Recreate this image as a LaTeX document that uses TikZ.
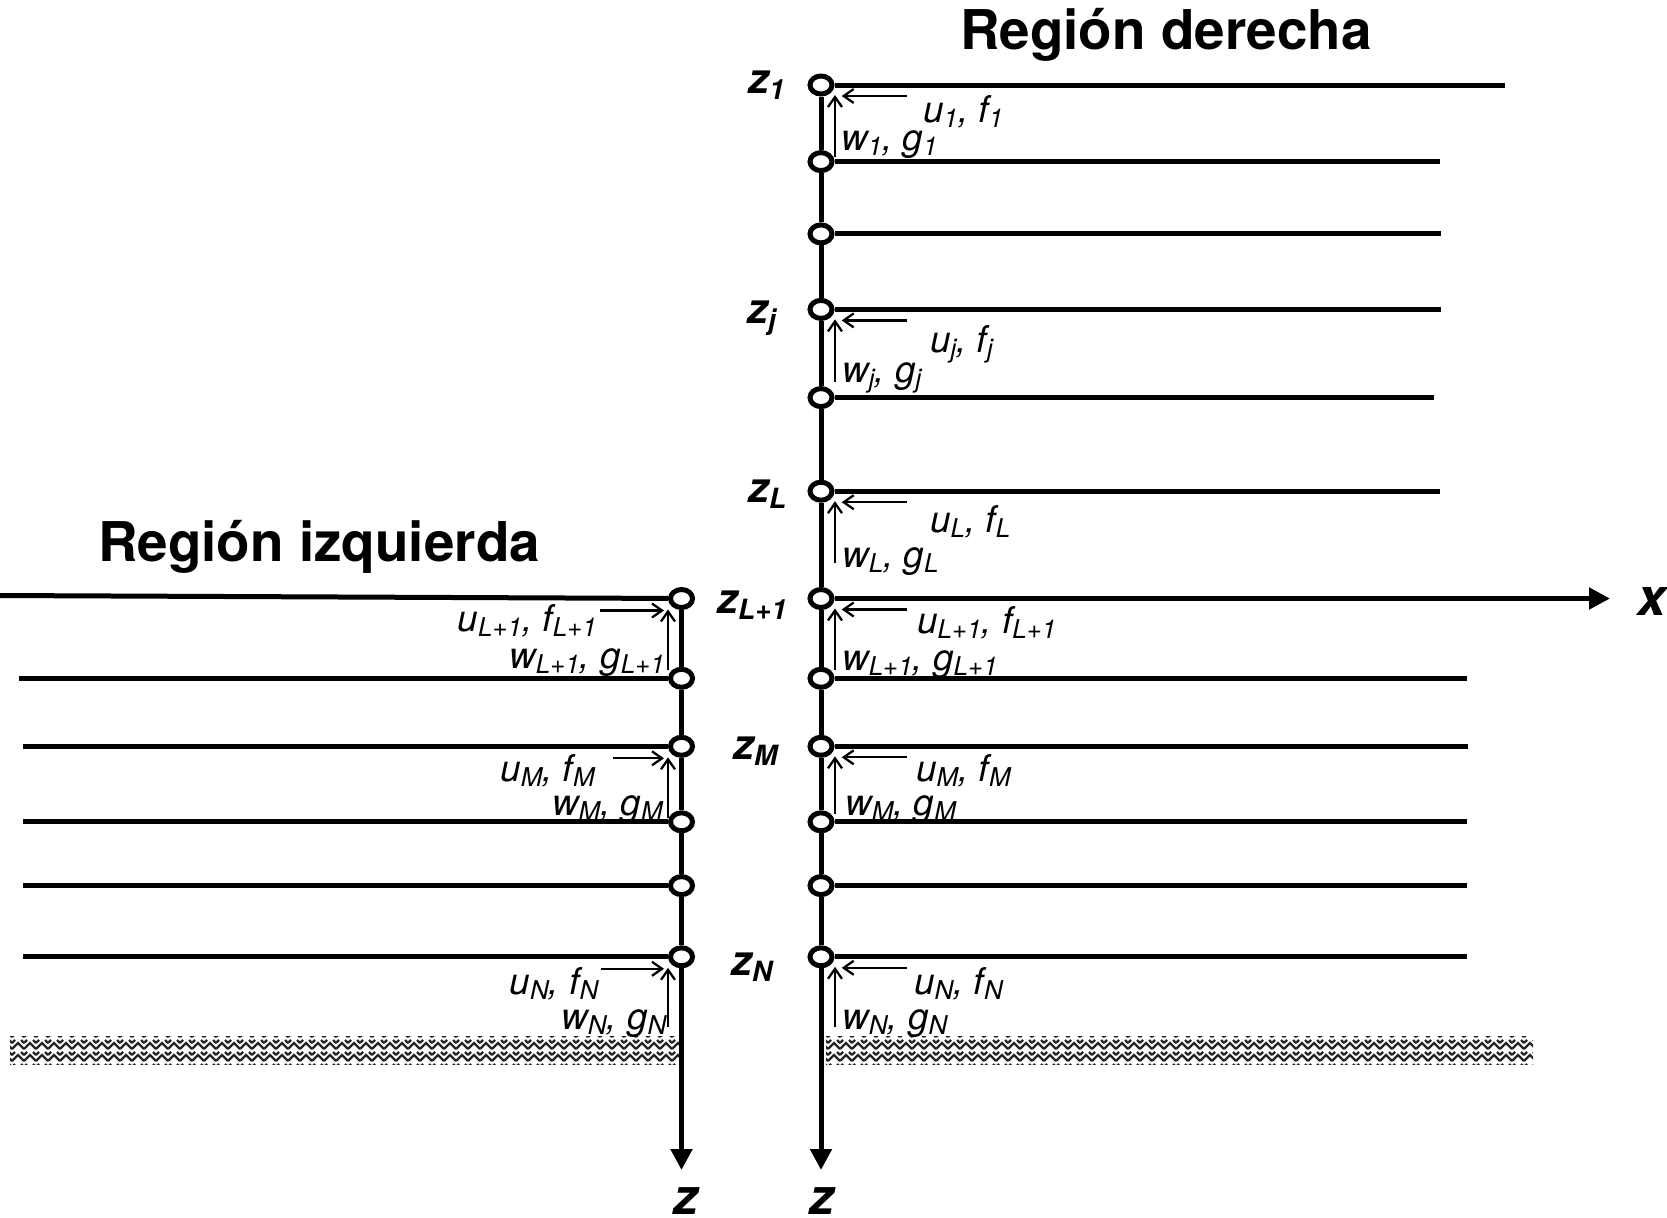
\documentclass[tikz,border=0pt]{standalone}
\usepackage{fontspec}
\setmainfont{TeX Gyre Heros}
\usetikzlibrary{arrows.meta,shapes.geometric,patterns}
\pgfdeclarepatternformonly{zigzag}{\pgfpoint{-1bp}{-1bp}}{\pgfpoint{13bp}{13bp}}{\pgfpoint{12bp}{12bp}}{%
  \pgfsetlinewidth{2.4bp}%
  \pgfpathmoveto{\pgfpoint{0bp}{0bp}}\pgfpathlineto{\pgfpoint{6bp}{6bp}}\pgfpathlineto{\pgfpoint{12bp}{0bp}}%
  \pgfpathmoveto{\pgfpoint{0bp}{6bp}}\pgfpathlineto{\pgfpoint{3bp}{9bp}}%
  \pgfpathmoveto{\pgfpoint{9bp}{9bp}}\pgfpathlineto{\pgfpoint{12bp}{6bp}}%
  \pgfusepath{stroke}}
\newcommand{\sbs}[1]{\raisebox{-5bp}{\fontsize{26}{26}\selectfont #1}}
\newcommand{\zsb}[1]{\raisebox{-6bp}{\fontsize{28}{28}\selectfont\bfseries\itshape #1}}
\begin{document}
\begin{tikzpicture}[x=1bp,y=-1bp,
  pt/.style={ellipse,draw,line width=5bp,fill=white,minimum width=22bp,minimum height=18bp,inner sep=0pt},
  lay/.style={line width=5bp},
  thinar/.style={line width=2.3bp,-{Straight Barb[length=10bp,width=14bp]}},
  axisar/.style={line width=5bp,-{Triangle[length=21bp,width=21bp]}},
  lbl/.style={font=\fontsize{37}{40}\selectfont\itshape,inner sep=0pt},
  zl/.style={font=\fontsize{42}{46}\selectfont\bfseries\itshape,inner sep=0pt},
  ttl/.style={font=\fontsize{55}{60}\selectfont\bfseries,inner sep=0pt}]
\useasboundingbox (0,0) rectangle (1667,1217);
\fill[white] (0,0) rectangle (1667,1217);

% ground bands
\fill[pattern=zigzag,pattern color=black!85] (10,1036) rectangle (680,1064);
\fill[pattern=zigzag,pattern color=black!85] (826,1036) rectangle (1533,1064);

% titles
\node[ttl,anchor=base west] (tr) at (960,49) {Región derecha};
\node[ttl,anchor=base west] (tl) at (98,561) {Región izquierda};

% right column nodes
\node[pt] (R1) at (821,85) {};
\node[pt] (R2) at (821,161.6) {};
\node[pt] (R3) at (821,233.9) {};
\node[pt] (R4) at (821,309.4) {};
\node[pt] (R5) at (821,397.6) {};
\node[pt] (R6) at (821,491.2) {};
\node[pt] (R7) at (821,598.5) {};
\node[pt] (R8) at (821,678.3) {};
\node[pt] (R9) at (821,746.3) {};
\node[pt] (R10) at (821,821.8) {};
\node[pt] (R11) at (821,885.6) {};
\node[pt] (R12) at (821,956.8) {};
% left column nodes
\node[pt] (L7) at (681.5,598.5) {};
\node[pt] (L8) at (681.5,678.3) {};
\node[pt] (L9) at (681.5,746.3) {};
\node[pt] (L10) at (681.5,821.8) {};
\node[pt] (L11) at (681.5,885.6) {};
\node[pt] (L12) at (681.5,956.8) {};

% line end coordinates
\coordinate (E1) at (1505,85);
\coordinate (E2) at (1440,161.6);
\coordinate (E3) at (1441,233.9);
\coordinate (E4) at (1441,309.4);
\coordinate (E5) at (1434,397.6);
\coordinate (E6) at (1440,491.2);
\coordinate (X) at (1610,598.5);
\coordinate (E8) at (1467,678.3);
\coordinate (E9) at (1468,746.3);
\coordinate (E10) at (1467,821.8);
\coordinate (E11) at (1467,885.6);
\coordinate (E12) at (1467,956.8);
\coordinate (S7) at (0,595.5);
\coordinate (S8) at (19,678.3);
\coordinate (S9) at (23,746.3);
\coordinate (S10) at (23,821.8);
\coordinate (S11) at (23,885.6);
\coordinate (S12) at (23,956.8);
\coordinate (RZ) at (821,1170);
\coordinate (LZ) at (681.5,1170);

% horizontal layer lines
\draw[lay] (R1) -- (E1);
\draw[lay] (R2) -- (E2);
\draw[lay] (R3) -- (E3);
\draw[lay] (R4) -- (E4);
\draw[lay] (R5) -- (E5);
\draw[lay] (R6) -- (E6);
\draw[axisar] (R7) -- (X);
\draw[lay] (R8) -- (E8);
\draw[lay] (R9) -- (E9);
\draw[lay] (R10) -- (E10);
\draw[lay] (R11) -- (E11);
\draw[lay] (R12) -- (E12);
\draw[lay] (S7) -- (L7);
\draw[lay] (S8) -- (L8);
\draw[lay] (S9) -- (L9);
\draw[lay] (S10) -- (L10);
\draw[lay] (S11) -- (L11);
\draw[lay] (S12) -- (L12);

% vertical columns
\draw[lay] (R1) -- (R2);
\draw[lay] (R2) -- (R3);
\draw[lay] (R3) -- (R4);
\draw[lay] (R4) -- (R5);
\draw[lay] (R5) -- (R6);
\draw[lay] (R6) -- (R7);
\draw[lay] (R7) -- (R8);
\draw[lay] (R8) -- (R9);
\draw[lay] (R9) -- (R10);
\draw[lay] (R10) -- (R11);
\draw[lay] (R11) -- (R12);
\draw[axisar] (R12) -- (RZ);
\draw[lay] (L7) -- (L8);
\draw[lay] (L8) -- (L9);
\draw[lay] (L9) -- (L10);
\draw[lay] (L10) -- (L11);
\draw[lay] (L11) -- (L12);
\draw[axisar] (L12) -- (LZ);

% axis labels
\node[zl,font=\fontsize{52}{56}\selectfont\bfseries\itshape] (xl) at (1652,601) {x};
\node[zl,font=\fontsize{50}{54}\selectfont\bfseries\itshape,anchor=north] (zlL) at (686,1187) {z};
\node[zl,font=\fontsize{50}{54}\selectfont\bfseries\itshape,anchor=north] (zlR) at (822,1187) {z};

% z labels
\node[zl,anchor=base west] (z1) at (748,93) {z\zsb{1}};
\node[zl,anchor=base west] (zj) at (747,323) {z\zsb{j}};
\node[zl,anchor=base west] (zL) at (748,502) {z\zsb{L}};
\node[zl,anchor=base west] (zL1) at (717,613) {z\zsb{L+1}};
\node[zl,anchor=base west] (zM) at (733,759) {z\zsb{M}};
\node[zl,anchor=base west] (zN) at (731,975) {z\zsb{N}};

% right arrows
\foreach \n/\y/\b in {1/85/157, 4/309.4/381.7, 6/491.2/563, 7/598.5/670, 9/746.3/814, 12/956.8/1027}{
  \coordinate (ha\n) at (906.7,\y+11);
  \coordinate (ht\n) at (841.7,\y+11);
  \coordinate (va\n) at (835,\b);
  \coordinate (vt\n) at (835,\y+10);
  \draw[thinar] (ha\n) -- (ht\n);
  \draw[thinar] (va\n) -- (vt\n);
}
% left arrows
\foreach \n/\y/\b/\s in {7/598.5/670/600, 9/746.3/818/613, 12/956.8/1027/600.6}{
  \coordinate (lha\n) at (\s,\y+12);
  \coordinate (lht\n) at (664,\y+12);
  \coordinate (lva\n) at (668,\b);
  \coordinate (lvt\n) at (668,\y+11);
  \draw[thinar] (lha\n) -- (lht\n);
  \draw[thinar] (lva\n) -- (lvt\n);
}

% right labels
\node[lbl,anchor=base west] (u1) at (923,122) {u\sbs{1}, f\sbs{1}};
\node[lbl,anchor=base west] (w1) at (841,150) {w\sbs{1}, g\sbs{1}};
\node[lbl,anchor=base west] (uj) at (930,352) {u\sbs{j}, f\sbs{j}};
\node[lbl,anchor=base west] (wj) at (842,382) {w\sbs{j}, g\sbs{j}};
\node[lbl,anchor=base west] (uL) at (930,532) {u\sbs{L}, f\sbs{L}};
\node[lbl,anchor=base west] (wL) at (842,567) {w\sbs{L}, g\sbs{L}};
\node[lbl,anchor=base west] (uL1) at (917,633) {u\sbs{L+1}, f\sbs{L+1}};
\node[lbl,anchor=base west] (wL1) at (842,670) {w\sbs{L+1}, g\sbs{L+1}};
\node[lbl,anchor=base west] (uM) at (916,781) {u\sbs{M}, f\sbs{M}};
\node[lbl,anchor=base west] (wM) at (845,815) {w\sbs{M}, g\sbs{M}};
\node[lbl,anchor=base west] (uN) at (914,994) {u\sbs{N}, f\sbs{N}};
\node[lbl,anchor=base west] (wN) at (842,1029) {w\sbs{N}, g\sbs{N}};
% left labels
\node[lbl,anchor=base east] (luL1) at (597,631) {u\sbs{L+1}, f\sbs{L+1}};
\node[lbl,anchor=base east] (lwL1) at (665,668) {w\sbs{L+1}, g\sbs{L+1}};
\node[lbl,anchor=base east] (luM) at (595,781) {u\sbs{M}, f\sbs{M}};
\node[lbl,anchor=base east] (lwM) at (663,815) {w\sbs{M}, g\sbs{M}};
\node[lbl,anchor=base east] (luN) at (598.5,994) {u\sbs{N}, f\sbs{N}};
\node[lbl,anchor=base east] (lwN) at (666.5,1029) {w\sbs{N}, g\sbs{N}};
\end{tikzpicture}
\end{document}
